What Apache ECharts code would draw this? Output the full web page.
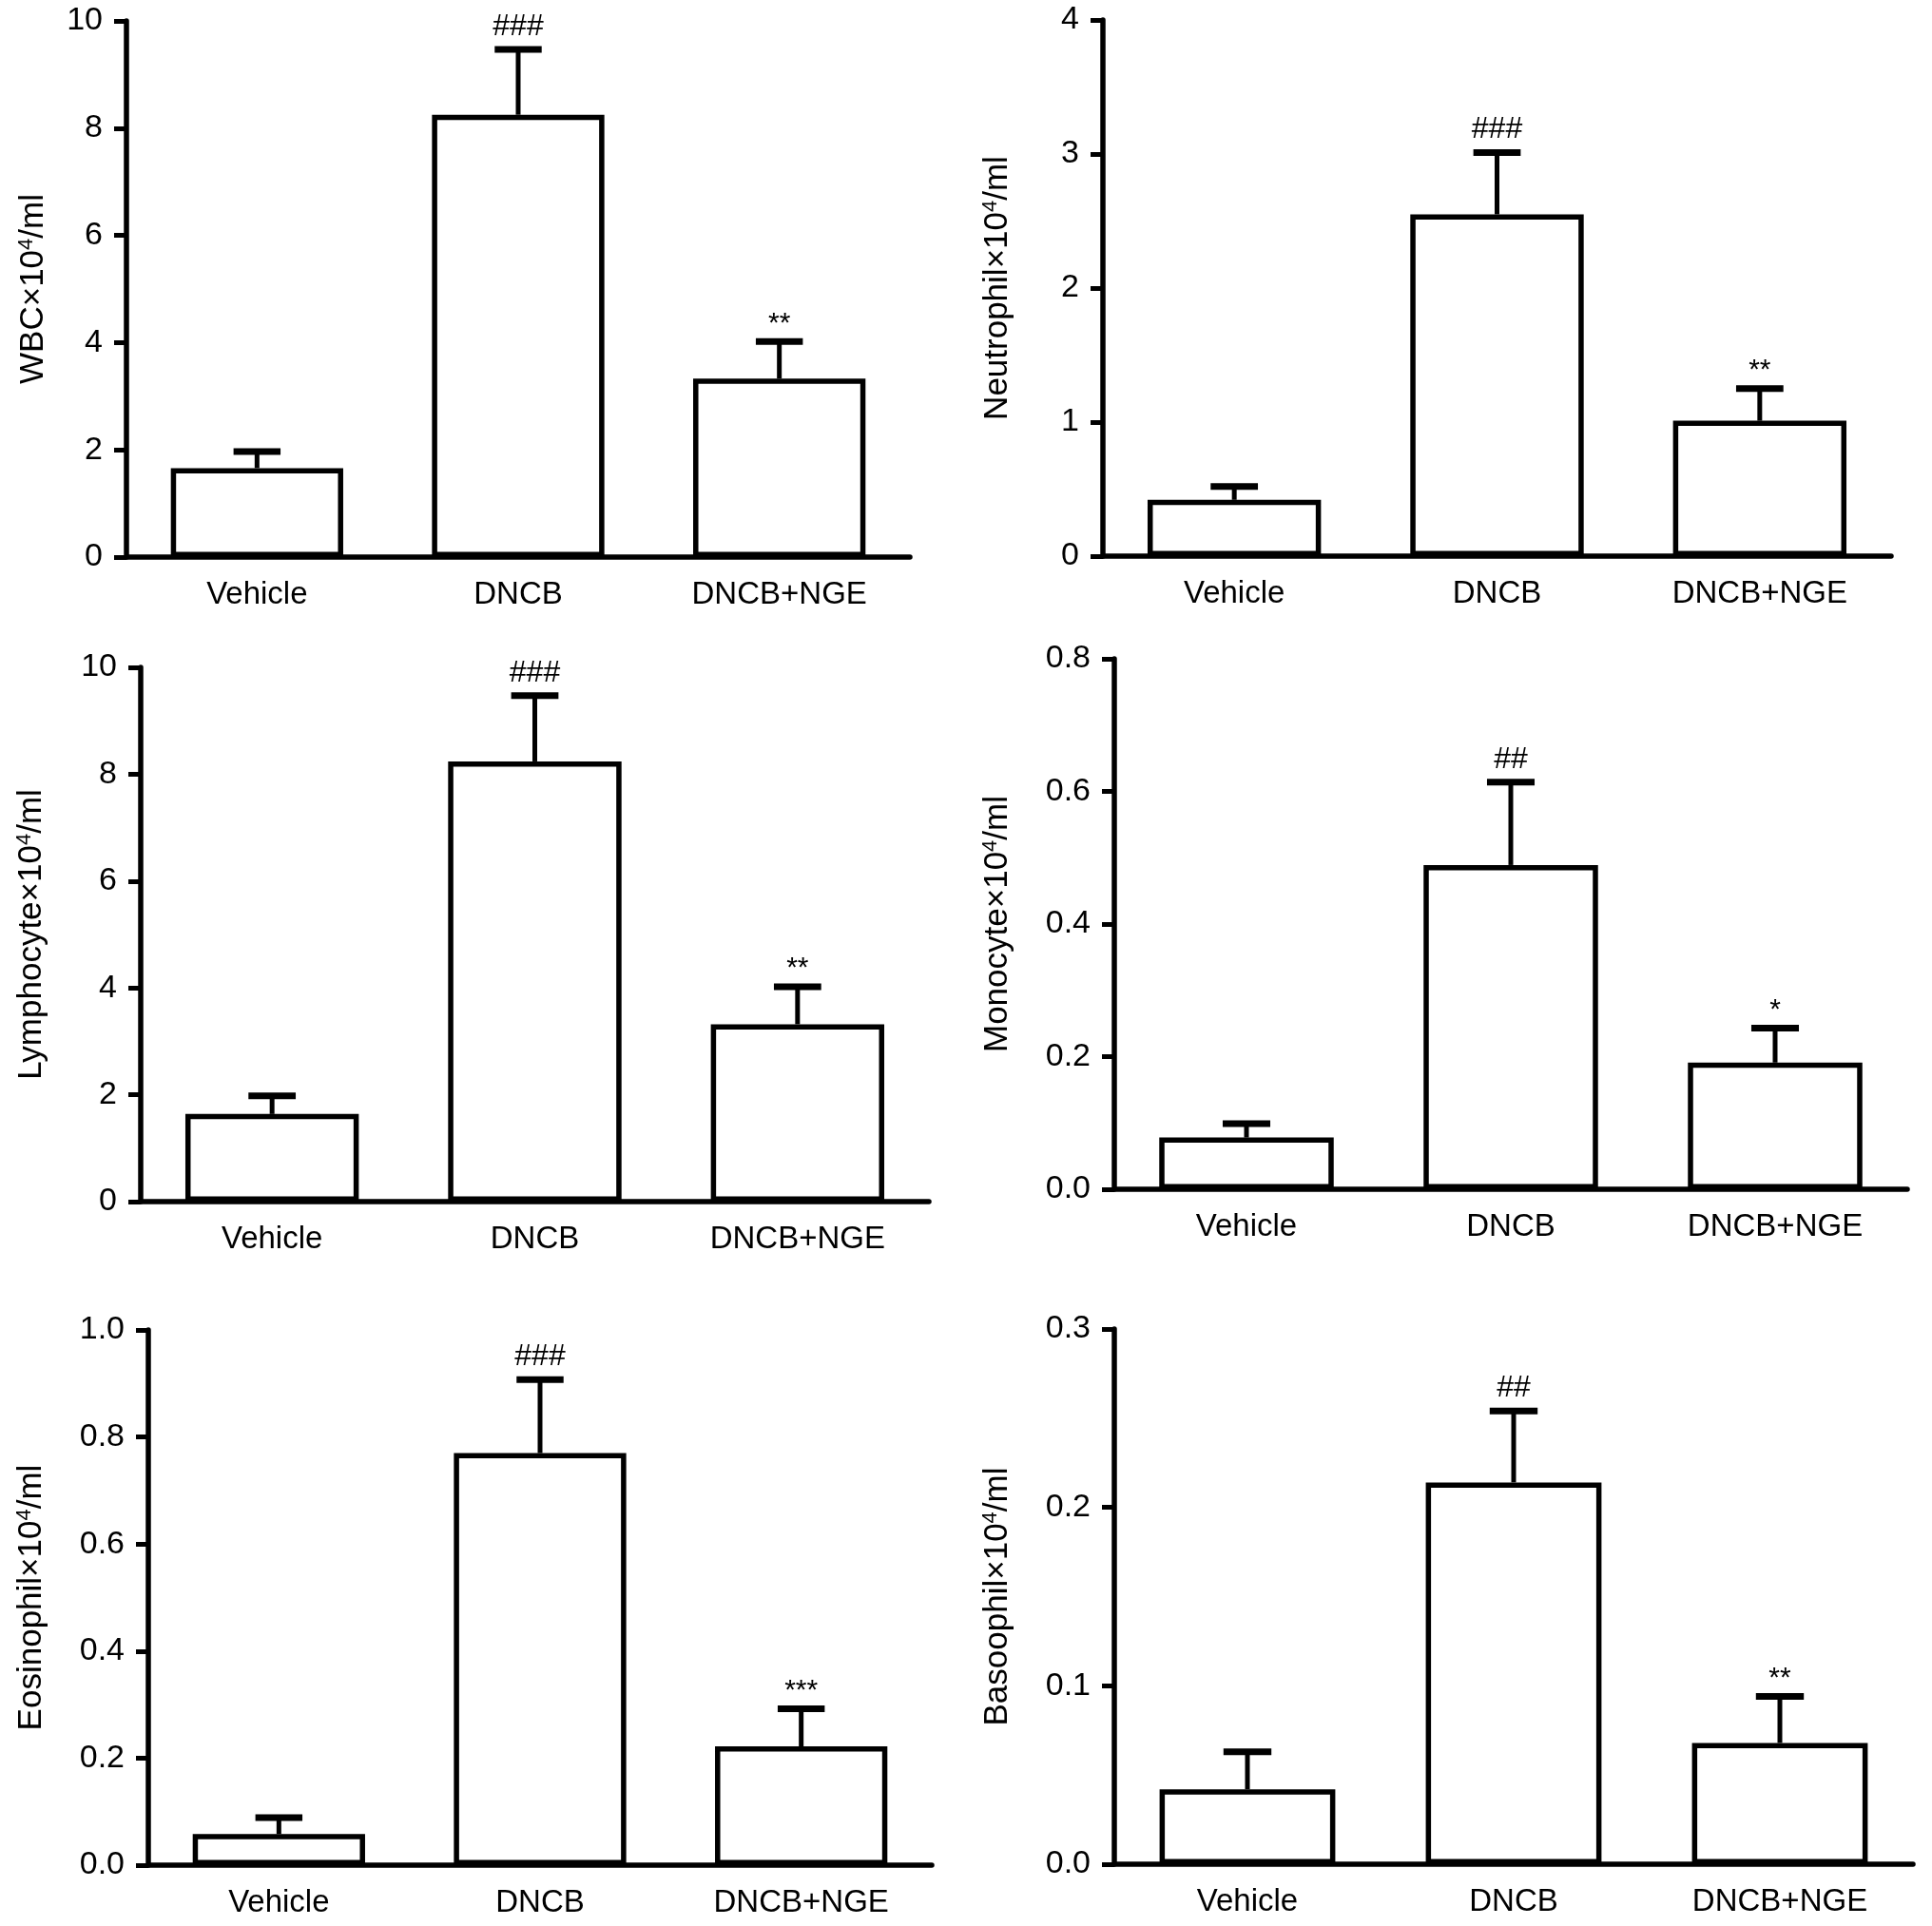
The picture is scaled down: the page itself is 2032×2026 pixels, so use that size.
<!DOCTYPE html>
<html>
<head>
<meta charset="utf-8">
<script src="https://cdn.jsdelivr.net/npm/echarts@6/dist/echarts.min.js"></script>
<style>
html,body{margin:0;padding:0;background:#fff;}
#chart{width:2032px;height:2026px;}
</style>
</head>
<body>
<div id="chart"></div>
<script>
// ---- data ----
const categories = ['Vehicle', 'DNCB', 'DNCB+NGE'];

const wbcMean = [1.66, 8.25, 3.33];
const wbcSem = [0.31, 1.22, 0.69];
const wbcSig = ['', '###', '**'];

const neutrophilMean = [0.42, 2.55, 1.01];
const neutrophilSem = [0.10, 0.46, 0.24];
const neutrophilSig = ['', '###', '**'];

const lymphocyteMean = [1.64, 8.24, 3.32];
const lymphocyteSem = [0.34, 1.23, 0.70];
const lymphocyteSig = ['', '###', '**'];

const monocyteMean = [0.078, 0.489, 0.191];
const monocyteSem = [0.021, 0.125, 0.052];
const monocyteSig = ['', '##', '*'];

const eosinophilMean = [0.058, 0.770, 0.222];
const eosinophilSem = [0.031, 0.137, 0.070];
const eosinophilSig = ['', '###', '***'];

const basoophilMean = [0.042, 0.214, 0.068];
const basoophilSem = [0.021, 0.040, 0.026];
const basoophilSig = ['', '##', '**'];

const panelNames = ['WBC', 'Neutrophil', 'Lymphocyte', 'Monocyte', 'Eosinophil', 'Basoophil'];
const yMax = [10, 4, 10, 0.8, 1.0, 0.3];
const yInterval = [2, 1, 2, 0.2, 0.2, 0.1];
const yDecimals = [0, 0, 0, 1, 1, 1];

const panels = [
  {mean: wbcMean, sem: wbcSem, sig: wbcSig},
  {mean: neutrophilMean, sem: neutrophilSem, sig: neutrophilSig},
  {mean: lymphocyteMean, sem: lymphocyteSem, sig: lymphocyteSig},
  {mean: monocyteMean, sem: monocyteSem, sig: monocyteSig},
  {mean: eosinophilMean, sem: eosinophilSem, sig: eosinophilSig},
  {mean: basoophilMean, sem: basoophilSem, sig: basoophilSig}
];

// ---- layout (pixels) ----
const grids = [
  {left: 133, top: 22, width: 824, height: 564},
  {left: 1160, top: 21, width: 829, height: 564},
  {left: 148, top: 702, width: 829, height: 562},
  {left: 1172, top: 693, width: 834, height: 558},
  {left: 156, top: 1399, width: 824, height: 563},
  {left: 1172, top: 1398, width: 840, height: 563}
];
const nameGaps = [80, 93, 97, 105, 105, 105];

const FONT = '"Liberation Sans", Arial, Helvetica, sans-serif';
const LW = 5.5;

const option = {
  backgroundColor: '#fff',
  animation: false,
  textStyle: {fontFamily: FONT, color: '#000'},
  grid: grids.map(g => Object.assign({containLabel: false}, g)),
  xAxis: grids.map((g, i) => ({
    type: 'category',
    gridIndex: i,
    data: categories,
    axisLine: {lineStyle: {color: '#000', width: LW}},
    axisTick: {alignWithLabel: true, length: 14, lineStyle: {color: '#000', width: 5}},
    axisLabel: {color: '#000', fontSize: 33, fontFamily: FONT, margin: 23},
    splitLine: {show: false}
  })),
  yAxis: grids.map((g, i) => ({
    type: 'value',
    gridIndex: i,
    min: 0,
    max: yMax[i],
    interval: yInterval[i],
    name: '{a|' + panelNames[i] + '×10}{s|4}{a|/ml}',
    nameLocation: 'middle',
    nameRotate: 90,
    nameGap: nameGaps[i],
    nameTextStyle: {
      rich: {
        a: {fontSize: 35, fontFamily: FONT, color: '#000'},
        s: {fontSize: 22, fontFamily: FONT, color: '#000', verticalAlign: 'top', padding: [0, 0, 14, 0]}
      }
    },
    axisLine: {show: true, lineStyle: {color: '#000', width: LW}},
    axisTick: {show: true, length: 13, lineStyle: {color: '#000', width: 5}},
    axisLabel: {
      color: '#000', fontSize: 34, fontFamily: FONT, margin: 25,
      formatter: v => Number(v).toFixed(yDecimals[i])
    },
    splitLine: {show: false}
  })),
  series: []
};

panels.forEach((p, i) => {
  option.series.push({
    type: 'bar',
    xAxisIndex: i,
    yAxisIndex: i,
    data: p.mean,
    barWidth: '66%',
    itemStyle: {color: '#fff', borderColor: '#000', borderWidth: LW},
    z: 2
  });
  option.series.push({
    type: 'custom',
    xAxisIndex: i,
    yAxisIndex: i,
    z: 3,
    data: p.mean.map((m, k) => [k, m, m + p.sem[k], p.sig[k]]),
    renderItem: function (params, api) {
      const k = api.value(0);
      const base = api.coord([k, api.value(1)]);
      const top = api.coord([k, api.value(2)]);
      const band = api.size([1, 0])[0];
      const hw = band * 0.09;
      const sig = p.sig[k];
      const isHash = sig.indexOf('#') >= 0;
      const children = [
        {type: 'line', shape: {x1: base[0], y1: base[1], x2: top[0], y2: top[1]},
         style: {stroke: '#000', lineWidth: 5}},
        {type: 'line', shape: {x1: top[0] - hw, y1: top[1], x2: top[0] + hw, y2: top[1]},
         style: {stroke: '#000', lineWidth: 7}}
      ];
      if (sig) {
        children.push({
          type: 'text',
          style: {
            text: sig, x: top[0], y: top[1] - (isHash ? 8 : 4),
            align: 'center', verticalAlign: 'bottom',
            fontSize: isHash ? 32 : 30,
            fontFamily: FONT, fill: '#000'
          }
        });
      }
      return {type: 'group', children: children};
    }
  });
});

const chart = echarts.init(document.getElementById('chart'), null, {renderer: 'canvas'});
chart.setOption(option);
</script>
</body>
</html>
